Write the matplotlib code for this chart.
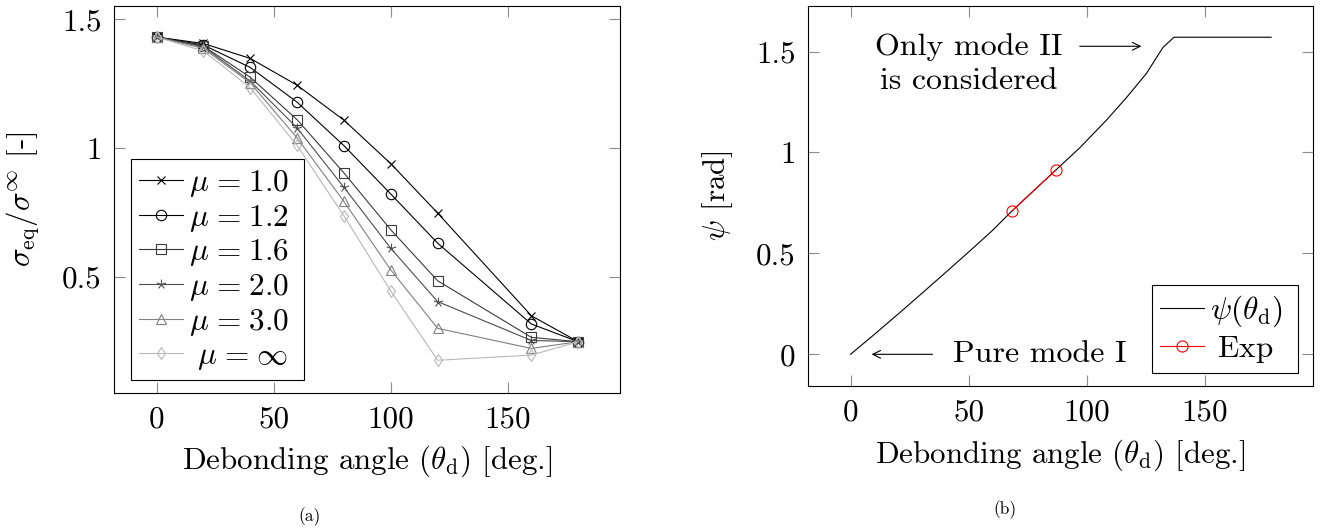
import numpy as np
import matplotlib
matplotlib.use("Agg")
import matplotlib.pyplot as plt
from matplotlib.path import Path

plt.rcParams.update({
    "font.family": "cmr10",
    "mathtext.fontset": "cm",
    "axes.formatter.use_mathtext": True,
    "font.size": 22.3,
})

# --- (a) equivalent stress vs debonding angle, one curve per mu ---
theta_d = [0, 20, 40, 60, 80, 100, 120, 160, 180]
sig_mu_10 = [1.431, 1.406, 1.348, 1.244, 1.108, 0.939, 0.747, 0.348, 0.247]
sig_mu_12 = [1.431, 1.400, 1.313, 1.178, 1.009, 0.821, 0.630, 0.316, 0.247]
sig_mu_16 = [1.431, 1.396, 1.275, 1.110, 0.903, 0.682, 0.484, 0.264, 0.247]
sig_mu_20 = [1.431, 1.393, 1.260, 1.078, 0.847, 0.610, 0.403, 0.252, 0.247]
sig_mu_30 = [1.431, 1.387, 1.253, 1.039, 0.792, 0.526, 0.299, 0.221, 0.247]
sig_mu_inf = [1.431, 1.377, 1.234, 1.010, 0.736, 0.444, 0.175, 0.195, 0.247]
mu_values = ["1.0", "1.2", "1.6", "2.0", "3.0", r"\infty"]

# --- (b) mode-mixity angle psi(theta_d) ---
theta_psi = [0, 10, 20, 30, 40, 50, 60, 68.4, 77, 86.8, 97, 108.3,
             116.8, 125.2, 132.2, 136.9, 178]
psi = [0, 0.098, 0.198, 0.300, 0.403, 0.507, 0.613, 0.711, 0.805, 0.912,
       1.023, 1.160, 1.272, 1.391, 1.520, 1.5708, 1.5708]
theta_exp = [68.4, 86.8]
psi_exp = [0.711, 0.912]

# 5-spoke asterisk, like the pgfplots "star" mark
_ang = np.deg2rad(90 + 72 * np.arange(5))
_verts, _codes = [], []
for a in _ang:
    _verts += [(0, 0), (np.cos(a), np.sin(a))]
    _codes += [Path.MOVETO, Path.LINETO]
star_mark = Path(_verts, _codes)

TICK_GRAY = "#8c8c8c"
LW = 0.8
LEG_FS = 22.5


def mu_label(v):
    lead = r"\hspace{0.3}" if v == r"\infty" else ""
    return rf"${lead}\mu\hspace{{0.1}}=\hspace{{0.1}}{v}$"


def style_axes(ax):
    for sp in ax.spines.values():
        sp.set_linewidth(LW)
        sp.set_color("black")
    ax.tick_params(direction="in", top=True, right=True, length=8,
                   width=0.8, color=TICK_GRAY, pad=9)


def boxed_legend(ax, box, spacing):
    # box = (x0, y0, width, height) in axes fraction; frame fills the width
    leg = ax.legend(loc="lower left", bbox_to_anchor=box, mode="expand",
                    borderaxespad=0, numpoints=1, handlelength=1.41,
                    handletextpad=0.2, labelspacing=spacing, borderpad=0.27,
                    fancybox=False, framealpha=1, edgecolor="black",
                    fontsize=LEG_FS)
    leg.get_frame().set_linewidth(LW)
    return leg


fig = plt.figure(figsize=(13.25, 5.29), dpi=100)
ax1 = fig.add_axes([0.0863, 0.2577, 0.3819, 0.7316])
ax2 = fig.add_axes([0.6100, 0.2703, 0.3809, 0.7193])

series = [sig_mu_10, sig_mu_12, sig_mu_16, sig_mu_20, sig_mu_30, sig_mu_inf]
colors = ["#000000", "#000000", "#3a3a3a", "#4d4d4d", "#808080", "#b8b8b8"]
markers = ["x", "o", "s", star_mark, "^", "d"]
msizes = [5.5, 7.5, 7.2, 7, 7.5, 6]
for ys, c, m, ms, v in zip(series, colors, markers, msizes, mu_values):
    ax1.plot(theta_d, ys, color=c, lw=LW, marker=m, ms=ms, mfc="none",
             mec=c, mew=0.8, label=mu_label(v))

ax1.set_xlim(-18, 198)
ax1.set_ylim(0.049, 1.553)
ax1.set_xticks([0, 50, 100, 150])
ax1.set_xticklabels(["0", "50", "100", "150"])
ax1.set_yticks([0.5, 1.0, 1.5])
ax1.set_yticklabels(["0.5", "1", "1.5"])
style_axes(ax1)
ax1.set_xlabel(r"Debonding angle ($\theta_{\mathrm{d}}$) [deg.]")
ax1.xaxis.label.set_va("center")
ax1.xaxis.set_label_coords(0.5, -0.178)
ax1.set_ylabel(r"$\sigma_{\mathrm{eq}}/\sigma^{\infty}$ [-]")
ax1.yaxis.set_label_coords(-0.143, 0.5)
boxed_legend(ax1, (0.0324, 0.0328, 0.343, 0.5), 0.12)

# right panel
ax2.plot(theta_psi, psi, color="black", lw=LW,
         label=r"$\psi(\theta_{\mathrm{d}})$")
ax2.plot(theta_exp, psi_exp, color="red", lw=LW, marker="o", ms=8,
         mfc="none", mec="red", mew=0.8, label=r"$\;$Exp")
ax2.set_xlim(-17.9, 195.7)
ax2.set_ylim(-0.157, 1.728)
ax2.set_xticks([0, 50, 100, 150])
ax2.set_xticklabels(["0", "50", "100", "150"])
ax2.set_yticks([0, 0.5, 1.0, 1.5])
ax2.set_yticklabels(["0", "0.5", "1", "1.5"])
style_axes(ax2)
ax2.set_xlabel(r"Debonding angle ($\theta_{\mathrm{d}}$) [deg.]")
ax2.xaxis.label.set_va("center")
ax2.xaxis.set_label_coords(0.5, -0.181)
ax2.set_ylabel(r"$\psi$ [rad]")
ax2.yaxis.set_label_coords(-0.145, 0.5)
boxed_legend(ax2, (0.6804, 0.033, 0.2893, 0.2), 0.15)

# annotations
big = 23
ax2.text(50, 1.482, "Only mode II", ha="center", va="baseline", fontsize=big)
ax2.text(50, 1.313, "is considered", ha="center", va="baseline", fontsize=big)
ax2.annotate("", xy=(123.1, 1.526), xytext=(97.0, 1.526),
             arrowprops=dict(arrowstyle="->", lw=LW, color="black",
                             shrinkA=0, shrinkB=0, mutation_scale=14))
ax2.text(80.1, -0.037, "Pure mode I", ha="center", va="baseline", fontsize=big)
ax2.annotate("", xy=(8.9, 0), xytext=(34.7, 0),
             arrowprops=dict(arrowstyle="->", lw=LW, color="black",
                             shrinkA=0, shrinkB=0, mutation_scale=14))

fig.text(310 / 1325, 1 - 516.7 / 529, "(a)", ha="center", va="center",
         fontsize=12.5)
fig.text(1004.7 / 1325, 1 - 510 / 529, "(b)", ha="center", va="center",
         fontsize=12.5)

fig.savefig("out.png", dpi=100)
